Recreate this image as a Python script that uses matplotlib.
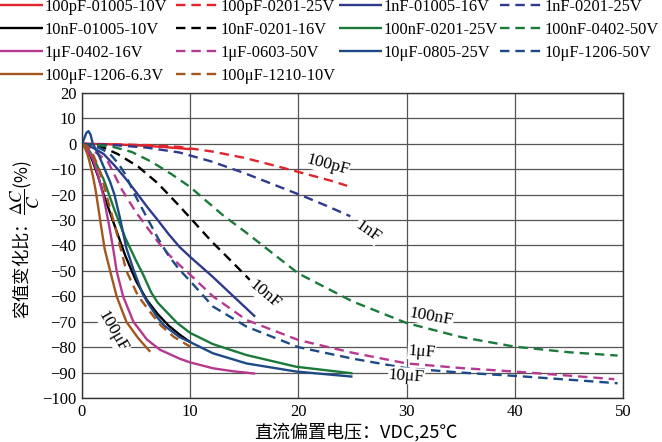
import matplotlib
matplotlib.use("Agg")
import matplotlib.pyplot as plt

plt.rcParams['mathtext.fontset'] = 'stix'
SERIF = ['Liberation Serif', 'DejaVu Serif']
CJK = ['Noto Sans CJK SC', 'DejaVu Sans']

# ---------------- data ----------------
x_100pF_01005 = [0, 2, 4, 6, 8, 10]
y_100pF_01005 = [0, -0.1, -0.4, -0.8, -1.4, -2.1]

x_100pF_0201 = [0, 3, 6, 9, 12, 15, 18, 21, 23, 24.5]
y_100pF_0201 = [0, -0.2, -0.5, -1.2, -3, -5.5, -8.8, -12.2, -14.5, -16.5]

x_1nF_01005 = [0, 1, 2, 3, 4, 5, 6, 7, 8, 9, 10, 12, 14, 16]
y_1nF_01005 = [0, -1.5, -4, -8.5, -13.5, -19, -24.7, -30, -35.5, -40.5, -44.5, -52, -60, -68]

x_1nF_0201 = [0, 3, 6, 9, 12, 15, 18, 20.4, 22.5, 24.8]
y_1nF_0201 = [0, -0.5, -1.5, -3.4, -7, -11.5, -16.5, -20.5, -24.2, -28.5]

x_10nF_01005 = [0, 0.5, 1, 1.5, 2, 2.5, 3, 3.5, 4, 5, 6, 7, 8, 9, 10]
y_10nF_01005 = [0, -2, -7, -13, -20, -26, -32, -38, -44, -54, -61.5, -67, -71.5, -75, -78]

x_10nF_0201 = [0, 1.5, 3.3, 5.2, 7, 8.9, 10.4, 12, 14, 15.5]
y_10nF_0201 = [0, -0.6, -4, -9, -15.5, -24, -31, -38.5, -47, -53.5]

x_100nF_0201 = [0, 0.5, 1, 1.5, 2, 2.5, 3, 3.5, 4, 4.5, 5, 5.6, 6.4, 7, 8.8, 10, 12.1, 15.2, 19.8, 25]
y_100nF_0201 = [0, -1.5, -5, -9.5, -14, -20, -26, -31.5, -37, -41.5, -46, -51, -58.5, -62.5, -70.5, -74.4, -78.8, -83.1, -87.7, -90.3]

x_100nF_0402 = [0, 2.7, 4.6, 6.4, 8.3, 10, 11, 13, 15.2, 16.7, 20, 25, 30, 35, 40, 45, 49.5]
y_100nF_0402 = [0, -1, -3.2, -7, -12, -17, -20.7, -28, -35, -40, -51, -62, -70.5, -76, -79.8, -82, -83.3]

x_1uF_0402 = [0, 0.5, 1, 1.5, 2, 2.5, 2.9, 3.2, 3.8, 4.75, 6.0, 7.2, 9, 10, 12.1, 14, 16]
y_1uF_0402 = [0, -2, -6, -12.5, -21, -32, -41.7, -50, -60, -70, -77, -81, -84.5, -86, -88.3, -89.5, -90.4]

x_1uF_0603 = [0, 1, 2.4, 3.6, 5, 5.8, 7, 8, 9, 10, 12.1, 15.2, 20, 25, 30, 35, 40, 45, 49.2]
y_1uF_0603 = [0, -2.5, -7, -17.4, -27, -31.6, -38.5, -43.5, -47.6, -51.5, -60, -69.3, -77.2, -82.2, -86.4, -88.2, -89.6, -91.2, -92.6]

x_10uF_0805 = [0, 0.2, 0.4, 0.6, 0.8, 1.0, 1.5, 2, 2.6, 3, 3.5, 4.1, 4.8, 5.6, 6.1, 7, 7.6, 9, 10, 12.1, 15.2, 19.8, 25]
y_10uF_0805 = [0, 2, 4.3, 5, 3.5, 0, -4, -9, -15, -20, -29, -41, -50, -59, -62.7, -68.5, -71.5, -76, -78, -82.4, -86.4, -89.6, -91.6]

x_10uF_1206 = [0, 1, 2, 2.7, 3.4, 4, 5, 6, 7, 8, 9, 10, 12.1, 15.2, 20, 25, 30, 35, 40, 45, 49.5]
y_10uF_1206 = [0, -0.5, -2.5, -4.5, -8, -12, -21, -29, -37, -44, -49.5, -54, -64, -71.9, -80, -84.5, -88.3, -90, -91.3, -92.8, -94.2]

x_100uF_1206 = [0, 0.25, 0.5, 0.75, 1, 1.25, 1.5, 1.75, 2.1, 2.6, 3.2, 4.1, 5.2, 6.3]
y_100uF_1206 = [0, -1.5, -4, -8, -12.5, -18, -25, -32, -41.5, -50, -60, -70, -76.5, -81.8]

x_100uF_1210 = [0, 0.5, 1, 1.5, 2, 2.5, 3, 3.5, 4.1, 5.2, 6.4, 7.3, 8.5, 10]
y_100uF_1210 = [0, -1, -4, -9, -16, -24, -31.5, -40, -50, -60, -66.7, -71.5, -76, -79.8]

x_ticks = [0, 10, 20, 30, 40, 50]
y_ticks = [20, 10, 0, -10, -20, -30, -40, -50, -60, -70, -80, -90, -100]

labels_text = ['100pF', '1nF', '10nF', '100nF', '1μF', '10μF', '100μF']
labels_x = [22.7, 26.4, 16.9, 32.3, 31.4, 30.0, 2.85]
labels_y = [-8.3, -34.5, -59.4, -68.0, -81.8, -91.3, -73.9]
labels_rot = [-15, -35, -40, -10, -4, -4, -60]

# ---------------- styles ----------------
RED = '#E3232C'
BLUE1 = '#2E3A8E'
BLUE2 = '#1D4A86'
GREEN = '#1B7A3A'
MAG = '#B7388F'
BROWN = '#A4561F'
BLACK = '#000000'

series = [
    ('100pF-01005-10V', x_100pF_01005, y_100pF_01005, RED, '-'),
    ('100pF-0201-25V', x_100pF_0201, y_100pF_0201, RED, '--'),
    ('1nF-01005-16V', x_1nF_01005, y_1nF_01005, BLUE1, '-'),
    ('1nF-0201-25V', x_1nF_0201, y_1nF_0201, BLUE1, '--'),
    ('10nF-01005-10V', x_10nF_01005, y_10nF_01005, BLACK, '-'),
    ('10nF-0201-16V', x_10nF_0201, y_10nF_0201, BLACK, '--'),
    ('100nF-0201-25V', x_100nF_0201, y_100nF_0201, GREEN, '-'),
    ('100nF-0402-50V', x_100nF_0402, y_100nF_0402, GREEN, '--'),
    ('1μF-0402-16V', x_1uF_0402, y_1uF_0402, MAG, '-'),
    ('1μF-0603-50V', x_1uF_0603, y_1uF_0603, MAG, '--'),
    ('10μF-0805-25V', x_10uF_0805, y_10uF_0805, BLUE2, '-'),
    ('10μF-1206-50V', x_10uF_1206, y_10uF_1206, BLUE2, '--'),
    ('100μF-1206-6.3V', x_100uF_1206, y_100uF_1206, BROWN, '-'),
    ('100μF-1210-10V', x_100uF_1210, y_100uF_1210, BROWN, '--'),
]

fig = plt.figure(figsize=(6.62, 4.42), dpi=100)
ax = fig.add_axes([82 / 662, 1 - 398 / 442, (623 - 82) / 662, (398 - 93) / 442])

handles = {}
for name, xs, ys, c, ls in series:
    kw = dict(color=c, lw=1.7, linestyle=ls, solid_capstyle='butt')
    if ls == '--':
        kw['dashes'] = (4, 2.5)
    ln, = ax.plot(xs, ys, label=name, **kw)
    handles[name] = ln

ax.set_xlim(0, 50)
ax.set_ylim(-100, 20)
ax.set_xticks(x_ticks)
ax.set_yticks(y_ticks)
ax.set_xticklabels([str(v) for v in x_ticks], fontfamily=SERIF, fontsize=12)
ax.set_yticklabels([str(v).replace('-', '\u2212') for v in y_ticks], fontfamily=SERIF, fontsize=12)
ax.tick_params(length=0, pad=4)
ax.grid(True, color='#555555', lw=0.9)
ax.set_axisbelow(True)
for s in ax.spines.values():
    s.set_color('#333333')
    s.set_linewidth(1.0)

for t, lx, ly, r in zip(labels_text, labels_x, labels_y, labels_rot):
    ax.text(lx, ly, t, rotation=r, ha='center', va='center', fontfamily=SERIF,
            fontsize=12.5, rotation_mode='anchor',
            bbox=dict(facecolor='white', edgecolor='none', pad=0.3))

# legend: four columns placed like the reference (row-major reading order)
columns = [
    ['100pF-01005-10V', '10nF-01005-10V', '1μF-0402-16V', '100μF-1206-6.3V'],
    ['100pF-0201-25V', '10nF-0201-16V', '1μF-0603-50V', '100μF-1210-10V'],
    ['1nF-01005-16V', '100nF-0201-25V', '10μF-0805-25V'],
    ['1nF-0201-25V', '100nF-0402-50V', '10μF-1206-50V'],
]
col_x = [0, 176, 339, 500]
for cx, names in zip(col_x, columns):
    fig.legend([handles[n] for n in names], names, loc='upper left',
               bbox_to_anchor=(cx / 662, 1 + 1 / 442), ncol=1, frameon=False,
               prop={'family': SERIF, 'size': 11.8}, handlelength=2.6,
               handletextpad=0.12, labelspacing=0.43,
               borderpad=0.0, borderaxespad=0.0)

fig.text(25 / 662, 1 - 240 / 442, '容值变化比：$\\dfrac{\\Delta C}{C}$(%)', rotation=90,
         ha='center', va='center', fontfamily=CJK, fontsize=12.5)
fig.text(356 / 662, 1 - 432 / 442, '直流偏置电压：VDC,25℃', ha='center', va='center',
         fontfamily=CJK, fontsize=13)

fig.savefig('out.png', dpi=100)
